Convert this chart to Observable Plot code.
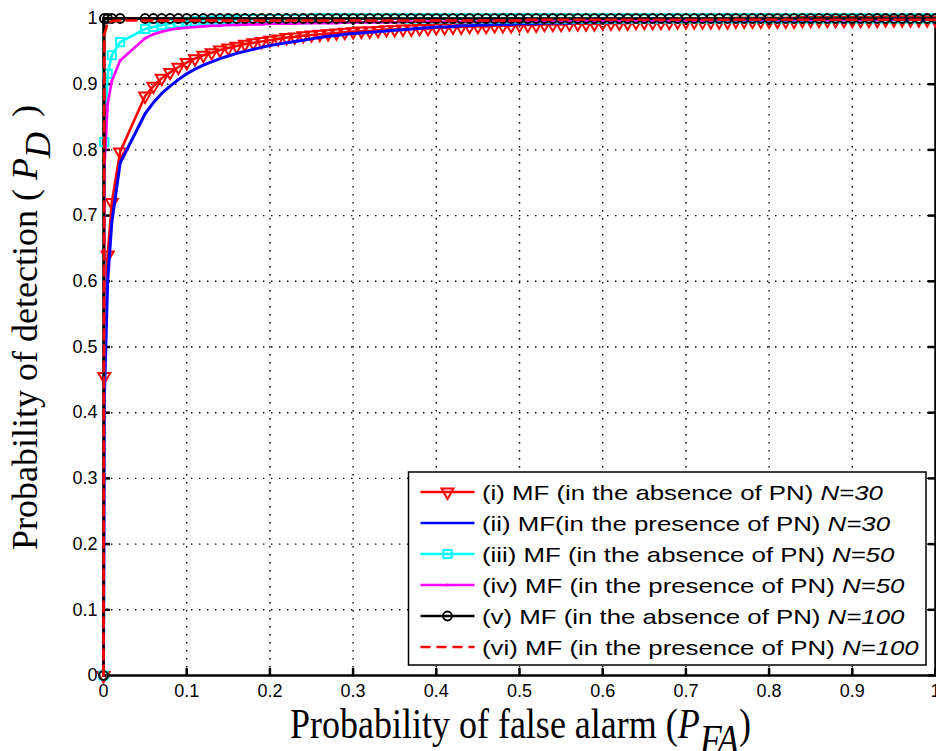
<!DOCTYPE html>
<html><head><meta charset="utf-8">
<script src="https://cdn.jsdelivr.net/npm/d3@7"></script>
<script src="https://cdn.jsdelivr.net/npm/@observablehq/plot@0.6"></script>
<style>body{margin:0;background:#fff;} #chart svg{overflow:visible;display:block}</style>
</head><body><div id="chart"></div>
<script>
// ---- data ----
const pfa = [0,0.001,0.005,0.01,0.02,0.05,0.06,0.07,0.08,0.09,0.10,0.11,0.12,0.13,0.14,0.15,0.16,0.17,0.18,0.19,0.20,0.21,0.22,0.23,0.24,0.25,0.26,0.27,0.28,0.29,0.30,0.31,0.32,0.33,0.34,0.35,0.36,0.37,0.38,0.39,0.40,0.41,0.42,0.43,0.44,0.45,0.46,0.47,0.48,0.49,0.50,0.51,0.52,0.53,0.54,0.55,0.56,0.57,0.58,0.59,0.60,0.61,0.62,0.63,0.64,0.65,0.66,0.67,0.68,0.69,0.70,0.71,0.72,0.73,0.74,0.75,0.76,0.77,0.78,0.79,0.80,0.81,0.82,0.83,0.84,0.85,0.86,0.87,0.88,0.89,0.90,0.91,0.92,0.93,0.94,0.95,0.96,0.97,0.98,0.99,1.00];

// (i) MF absence of PN, N=30
const pdI = [0,0.455,0.640,0.720,0.797,0.882,
0.897,0.909,0.918,0.926,0.933,
0.939,0.944,0.948,0.952,0.955,0.958,0.961,0.963,0.965,0.967,
0.969,0.971,0.972,0.974,0.975,0.976,0.977,0.978,0.979,0.980,
0.981,0.981,0.982,0.983,0.983,0.984,0.984,0.985,0.985,0.986,
0.986,0.987,0.987,0.988,0.988,0.988,0.989,0.989,0.989,0.990,
0.990,0.990,0.991,0.991,0.991,0.992,0.992,0.992,0.992,0.993,
0.993,0.993,0.993,0.994,0.994,0.994,0.994,0.994,0.995,0.995,
0.995,0.995,0.995,0.995,0.995,0.996,0.996,0.996,0.996,0.996,
0.996,0.996,0.996,0.997,0.997,0.997,0.997,0.997,0.997,0.997,
0.997,0.997,0.997,0.998,0.998,0.998,0.998,0.998,0.998,0.998];
// (ii) MF presence of PN, N=30
const pdII = [0,0.420,0.600,0.690,0.780,0.855,
0.872,0.886,0.897,0.907,0.916,
0.923,0.929,0.934,0.939,0.943,0.947,0.950,0.953,0.956,0.959,
0.961,0.963,0.965,0.967,0.969,0.971,0.973,0.974,0.976,0.977,
0.978,0.979,0.980,0.981,0.982,0.983,0.984,0.985,0.986,0.987,
0.987,0.988,0.989,0.989,0.990,0.990,0.991,0.991,0.991,0.992,
0.992,0.992,0.993,0.993,0.993,0.993,0.994,0.994,0.994,0.994,
0.994,0.995,0.995,0.995,0.995,0.995,0.995,0.996,0.996,0.996,
0.996,0.996,0.996,0.996,0.996,0.997,0.997,0.997,0.997,0.997,
0.997,0.997,0.997,0.997,0.997,0.998,0.998,0.998,0.998,0.998,
0.998,0.998,0.998,0.998,0.998,0.998,0.999,0.999,0.999,0.999];
// (iii) MF absence of PN, N=50
const pdIII = [0,0.812,0.916,0.944,0.964,0.984,
0.987,0.990,0.992,0.994,0.995,
0.996,0.997,0.997,0.998,0.998,0.998,0.999,0.999,0.999,0.999,
0.999,0.999,0.999,0.999,1,1,1,1,1,1,
1,1,1,1,1,1,1,1,1,1,
1,1,1,1,1,1,1,1,1,1,
1,1,1,1,1,1,1,1,1,1,
1,1,1,1,1,1,1,1,1,1,
1,1,1,1,1,1,1,1,1,1,
1,1,1,1,1,1,1,1,1,1,
1,1,1,1,1,1,1,1,1,1];
// (iv) MF presence of PN, N=50
const pdIV = [0,0.770,0.870,0.905,0.936,0.970,
0.976,0.980,0.983,0.985,0.986,
0.987,0.988,0.989,0.989,0.990,0.990,0.991,0.991,0.991,0.992,
0.992,0.992,0.992,0.993,0.993,0.993,0.993,0.993,0.994,0.994,
0.994,0.994,0.994,0.994,0.994,0.995,0.995,0.995,0.995,0.995,
0.995,0.995,0.995,0.995,0.995,0.996,0.996,0.996,0.996,0.996,
0.996,0.996,0.996,0.996,0.996,0.996,0.997,0.997,0.997,0.997,
0.997,0.997,0.997,0.997,0.997,0.997,0.997,0.997,0.997,0.997,
0.997,0.997,0.997,0.998,0.998,0.998,0.998,0.998,0.998,0.998,
0.998,0.998,0.998,0.998,0.998,0.998,0.998,0.998,0.998,0.998,
0.998,0.998,0.999,0.999,0.999,0.999,0.999,0.999,0.999,0.999];
// (v) MF absence of PN, N=100
const pdV = [0,1,1,1,1,1,
1,1,1,1,1,
1,1,1,1,1,1,1,1,1,1,
1,1,1,1,1,1,1,1,1,1,
1,1,1,1,1,1,1,1,1,1,
1,1,1,1,1,1,1,1,1,1,
1,1,1,1,1,1,1,1,1,1,
1,1,1,1,1,1,1,1,1,1,
1,1,1,1,1,1,1,1,1,1,
1,1,1,1,1,1,1,1,1,1,
1,1,1,1,1,1,1,1,1,1];
// (vi) MF presence of PN, N=100
const pdVI = [0,0.975,0.993,0.996,0.997,0.997,
0.997,0.997,0.997,0.997,0.997,
0.997,0.997,0.997,0.997,0.997,0.997,0.997,0.997,0.997,0.997,
0.997,0.997,0.997,0.997,0.997,0.997,0.997,0.997,0.997,0.997,
0.997,0.997,0.997,0.997,0.997,0.997,0.997,0.997,0.997,0.997,
0.997,0.997,0.997,0.997,0.997,0.997,0.997,0.997,0.997,0.997,
0.998,0.998,0.998,0.998,0.998,0.998,0.998,0.998,0.998,0.998,
0.998,0.998,0.998,0.998,0.998,0.998,0.998,0.998,0.998,0.998,
0.998,0.998,0.998,0.998,0.998,0.998,0.998,0.998,0.998,0.998,
0.998,0.998,0.998,0.998,0.998,0.998,0.998,0.998,0.998,0.998,
0.998,0.998,0.998,0.998,0.998,0.998,0.998,0.998,0.998,0.998];

const legendLabels = [
  "(i) MF (in the absence of PN) ",
  "(ii) MF(in the presence of PN) ",
  "(iii) MF (in the absence of PN) ",
  "(iv) MF (in the presence of PN) ",
  "(v) MF (in the absence of PN) ",
  "(vi) MF (in the presence of PN) "
];
const legendN = ["N=30","N=30","N=50","N=50","N=100","N=100"];

const xTicks = [0,0.1,0.2,0.3,0.4,0.5,0.6,0.7,0.8,0.9,1];
const xTickLabels = ["0","0.1","0.2","0.3","0.4","0.5","0.6","0.7","0.8","0.9","1"];
const yTicks = [0,0.1,0.2,0.3,0.4,0.5,0.6,0.7,0.8,0.9,1];
const yTickLabels = ["0","0.1","0.2","0.3","0.4","0.5","0.6","0.7","0.8","0.9","1"];
const gridTicks = [0.1,0.2,0.3,0.4,0.5,0.6,0.7,0.8,0.9];

const xTitle = "Probability of false alarm (";
const yTitle = "Probability of detection ( ";

// ---- build ----
const rows = ys => pfa.map((x, i) => ({x, y: ys[i]}));
const dI = rows(pdI), dII = rows(pdII), dIII = rows(pdIII), dIV = rows(pdIV), dV = rows(pdV), dVI = rows(pdVI);
const xLab = new Map(xTicks.map((t, i) => [t, xTickLabels[i]]));
const yLab = new Map(yTicks.map((t, i) => [t, yTickLabels[i]]));

const downTriangle = {draw(ctx, size) {
  const s = Math.sqrt(size) * 0.6824, t = s / 2, u = s * Math.sqrt(3) / 2;
  ctx.moveTo(0, s); ctx.lineTo(u, -t); ctx.lineTo(-u, -t); ctx.closePath();
}};

const W = 936, H = 751, ML = 103, MR = 1, MT = 18, MB = 76;
const fw = W - ML - MR, fh = H - MT - MB;
const LW = 2.6;

const plot = Plot.plot({
  width: W, height: H,
  marginLeft: ML, marginRight: MR, marginTop: MT, marginBottom: MB,
  x: {domain: [0, 1]},
  y: {domain: [0, 1]},
  style: {fontFamily: "'Liberation Sans', Arial, Helvetica, sans-serif", fontSize: "18px", background: "white", color: "black", overflow: "visible"},
  marks: [
    Plot.gridX(gridTicks, {stroke: "#000", strokeOpacity: 1, strokeWidth: 1.4, strokeDasharray: "1.4,6.6"}),
    Plot.gridY(gridTicks, {stroke: "#000", strokeOpacity: 1, strokeWidth: 1.4, strokeDasharray: "1.4,6.6"}),
    Plot.frame({stroke: "#000", strokeWidth: 2.5}),
    Plot.tickX(xTicks, {x: d => d, stroke: "#000", strokeWidth: 2.5, insetTop: fh - 7}),
    Plot.tickX(xTicks, {x: d => d, stroke: "#000", strokeWidth: 2.5, insetBottom: fh - 7}),
    Plot.tickY(yTicks, {y: d => d, stroke: "#000", strokeWidth: 2.5, insetRight: fw - 7}),
    Plot.tickY(yTicks, {y: d => d, stroke: "#000", strokeWidth: 2.5, insetLeft: fw - 7}),
    Plot.line(dI, {x: "x", y: "y", stroke: "#ff0000", strokeWidth: LW}),
    Plot.dot(dI, {x: "x", y: "y", symbol: downTriangle, r: 5.7, stroke: "#ff0000", strokeWidth: 2, fill: "none"}),
    Plot.line(dII, {x: "x", y: "y", stroke: "#0000ff", strokeWidth: LW + 0.4}),
    Plot.line(dIII, {x: "x", y: "y", stroke: "#00ffff", strokeWidth: LW}),
    Plot.dot(dIII, {x: "x", y: "y", symbol: "square", r: 4.6, stroke: "#00ffff", strokeWidth: 2, fill: "none"}),
    Plot.line(dIV, {x: "x", y: "y", stroke: "#ff00ff", strokeWidth: LW}),
    Plot.dot(dIV, {x: "x", y: "y", r: 1.5, fill: "#ff00ff", stroke: "none"}),
    Plot.line(dV, {x: "x", y: "y", stroke: "#000000", strokeWidth: LW}),
    Plot.dot(dV, {x: "x", y: "y", symbol: "circle", r: 4.4, stroke: "#000000", strokeWidth: 2, fill: "none"}),
    Plot.line(dVI, {x: "x", y: "y", stroke: "#ff0000", strokeWidth: LW, strokeDasharray: "10,6"}),
    Plot.axisX(xTicks, {anchor: "bottom", tickSize: 0, tickPadding: 9, tickFormat: d => xLab.get(d), fontSize: 18, label: null}),
    Plot.axisY(yTicks, {anchor: "left", tickSize: 0, tickPadding: 6, tickFormat: d => yLab.get(d), fontSize: 18, label: null})
  ]
});
document.getElementById("chart").appendChild(plot);

// ---- titles and legend ----
const svg = d3.select(plot);
const serif = "'Liberation Serif', 'Times New Roman', Times, serif";

const xt = svg.append("text")
  .attr("transform", "translate(290,738) scale(1,1.15)")
  .attr("text-anchor", "start")
  .attr("font-family", serif).attr("font-size", 36).attr("fill", "#000");
xt.append("tspan").text(xTitle);
xt.append("tspan").attr("font-style", "italic").text("P");
xt.append("tspan").attr("font-style", "italic").attr("dy", 14).text("FA");
xt.append("tspan").attr("dy", -14).text(")");

const yt = svg.append("text")
  .attr("transform", "translate(37,550) rotate(-90)")
  .attr("text-anchor", "start")
  .attr("font-family", serif).attr("font-size", 36).attr("fill", "#000");
yt.append("tspan").text(yTitle);
yt.append("tspan").attr("font-style", "italic").text("P");
yt.append("tspan").attr("font-style", "italic").attr("dy", 13).text("D");
yt.append("tspan").attr("dy", -13).attr("dx", 6).text(" )");

// legend
const lg = svg.append("g");
const LX = 408.5, LY = 472, LWd = 517.5, LHt = 193;
lg.append("rect").attr("x", LX).attr("y", LY).attr("width", LWd).attr("height", LHt)
  .attr("fill", "#fff").attr("stroke", "#000").attr("stroke-width", 1.5);
const styles = [
  {stroke: "#ff0000", dash: null, sym: downTriangle, r: 5.7},
  {stroke: "#0000ff", dash: null, sym: null},
  {stroke: "#00ffff", dash: null, sym: d3.symbolSquare, r: 4.6},
  {stroke: "#ff00ff", dash: null, sym: "dot"},
  {stroke: "#000000", dash: null, sym: d3.symbolCircle, r: 4.4},
  {stroke: "#ff0000", dash: "10,6", sym: null}
];
legendLabels.forEach((lab, i) => {
  const cy = 492 + i * 31;
  const st = styles[i];
  lg.append("line").attr("x1", 420.5).attr("x2", 474.5).attr("y1", cy).attr("y2", cy)
    .attr("stroke", st.stroke).attr("stroke-width", LW).attr("stroke-dasharray", st.dash);
  if (st.sym === "dot") {
    lg.append("circle").attr("cx", 447.5).attr("cy", cy).attr("r", 1.5).attr("fill", st.stroke);
  } else if (st.sym) {
    lg.append("path").attr("d", d3.symbol(st.sym, Math.PI * st.r * st.r)())
      .attr("transform", `translate(447.5,${cy})`)
      .attr("fill", "none").attr("stroke", st.stroke).attr("stroke-width", 2);
  }
  const t = lg.append("text")
    .attr("transform", `translate(482,${cy + 7.5}) scale(1.23,1)`)
    .attr("text-anchor", "start")
    .attr("font-family", "'Liberation Sans', Arial, Helvetica, sans-serif")
    .attr("font-size", 21).attr("fill", "#000");
  t.append("tspan").text(lab);
  t.append("tspan").attr("font-style", "italic").text(legendN[i]);
});
</script>
</body></html>
